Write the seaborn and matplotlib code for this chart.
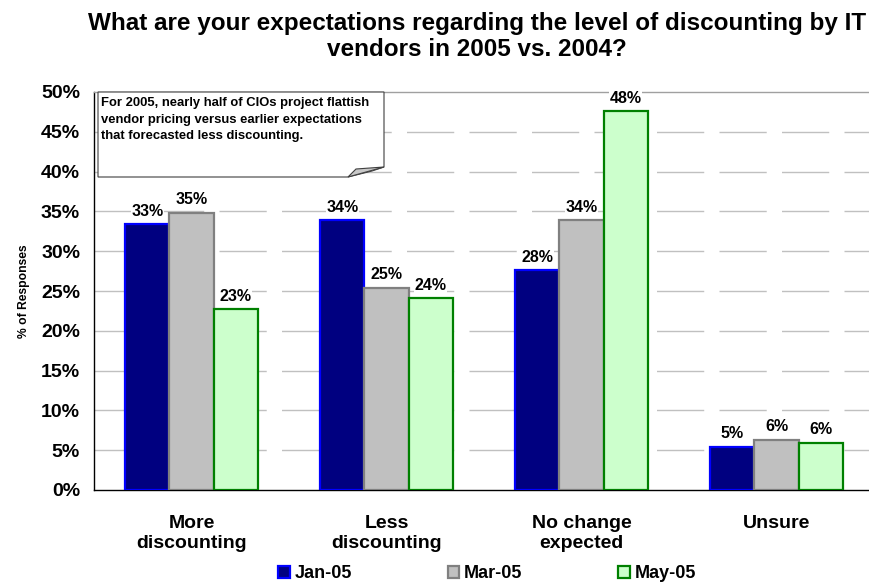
import matplotlib
matplotlib.use('Agg')
import matplotlib.pyplot as plt
from matplotlib.patches import Polygon, Patch
import seaborn as sns
import pandas as pd
import numpy as np

# Dados
categorias = ['More\ndiscounting', 'Less\ndiscounting', 'No change\nexpected', 'Unsure']
periodos = ['Jan-05', 'Mar-05', 'May-05']
jan_05 = [33.4, 33.9, 27.6, 5.4]
mar_05 = [34.8, 25.4, 33.9, 6.3]
may_05 = [22.7, 24.1, 47.6, 5.9]
y_ticks = [0, 5, 10, 15, 20, 25, 30, 35, 40, 45, 50]

titulo = 'What are your expectations regarding the level of discounting by IT\nvendors in 2005 vs. 2004?'
nota = ('For 2005, nearly half of CIOs project flattish\n'
        'vendor pricing versus earlier expectations\n'
        'that forecasted less discounting.')

cores_face = ['#000080', '#C0C0C0', '#CCFFCC']
cores_borda = ['#0000FF', '#808080', '#008000']

df = pd.DataFrame({
    'Categoria': categorias * 3,
    'Periodo': np.repeat(periodos, len(categorias)),
    'Valor': jan_05 + mar_05 + may_05,
})

sns.set_style('white')
plt.rcParams['font.family'] = ['Liberation Sans', 'DejaVu Sans']
plt.rcParams['font.weight'] = 'bold'
plt.rcParams['text.color'] = 'black'
plt.rcParams['axes.labelcolor'] = 'black'
plt.rcParams['xtick.color'] = 'black'
plt.rcParams['ytick.color'] = 'black'

W, H = 869, 586
fig = plt.figure(figsize=(W / 100, H / 100), dpi=100)
ax = fig.add_axes([94 / W, 1 - 490 / H, 780 / W, 398 / H])

sns.barplot(data=df, x='Categoria', y='Valor', hue='Periodo', order=categorias,
            hue_order=periodos, palette=cores_face, width=0.68, saturation=1,
            errorbar=None, legend=False, ax=ax, zorder=3)

for cont, borda in zip(ax.containers, cores_borda):
    for barra in cont:
        barra.set_edgecolor(borda)
        barra.set_linewidth(1.6)
    ax.bar_label(cont, fmt='%.0f%%', padding=4, fontsize=11.5, fontweight='bold',
                 color='black',
                 bbox=dict(facecolor='white', edgecolor='none', pad=0.5), zorder=4)

ax.set_ylim(0, 50)
ax.set_xlim(-0.5, 3.5)
ax.set_yticks(y_ticks)
ax.set_yticklabels([f'{v}%' for v in y_ticks], fontsize=14, fontweight='bold')
ax.set_xticks(range(len(categorias)))
ax.set_xticklabels(categorias, fontsize=14, fontweight='bold', linespacing=1.2)
ax.set_xticks(np.arange(-0.5, 4, 1), minor=True)
ax.tick_params(axis='x', which='major', length=0, pad=18)
ax.tick_params(axis='x', which='minor', length=6, width=1, color='black', direction='out')
ax.tick_params(axis='y', length=6, width=1, color='black', direction='out', pad=4)
ax.set_xlabel('')
ax.set_ylabel('% of Responses', fontsize=8.7, fontweight='bold', labelpad=8)

for v in y_ticks[1:-1]:
    ax.axhline(v, color='#C0C0C0', linewidth=1, linestyle=(0, (34, 11)), zorder=1)

ax.spines['right'].set_visible(False)
ax.spines['top'].set_color('#A0A0A0')
ax.spines['left'].set_color('black')
ax.spines['bottom'].set_color('black')
for s in ['left', 'bottom', 'top']:
    ax.spines[s].set_linewidth(1)

# Título
fig.text(477 / W, 1 - 12 / H, titulo, ha='center', va='top', fontsize=17.5,
         fontweight='bold', linespacing=1.15)

# Caixa de anotação com canto dobrado
def px(x, y):
    return (x / W, 1 - y / H)

caixa = Polygon([px(98, 92), px(384, 92), px(384, 167), px(372, 171),
                 px(348, 177), px(98, 177)], closed=True,
                facecolor='white', edgecolor='#404040', linewidth=0.8,
                transform=fig.transFigure, zorder=5)
dobra = Polygon([px(348, 177), px(356, 169), px(384, 167)], closed=True,
                facecolor='#C8C8C8', edgecolor='#404040', linewidth=0.8,
                transform=fig.transFigure, zorder=6)
fig.patches.extend([caixa, dobra])
fig.text(101 / W, 1 - 97 / H, nota, ha='left', va='top', fontsize=9.4,
         fontweight='bold', linespacing=1.5, zorder=7)

# Legenda
handles = [Patch(facecolor=f, edgecolor=e, linewidth=1.6, label=p)
           for f, e, p in zip(cores_face, cores_borda, periodos)]
fig.legend(handles=handles, loc='center', bbox_to_anchor=(487 / W, 1 - 574 / H),
           ncol=3, frameon=False, prop={'size': 13, 'weight': 'bold'},
           labelcolor='black',
           handlelength=0.65, handleheight=0.65, handletextpad=0.25,
           columnspacing=5.3, borderaxespad=0, borderpad=0)

fig.savefig('out.png', dpi=100)
